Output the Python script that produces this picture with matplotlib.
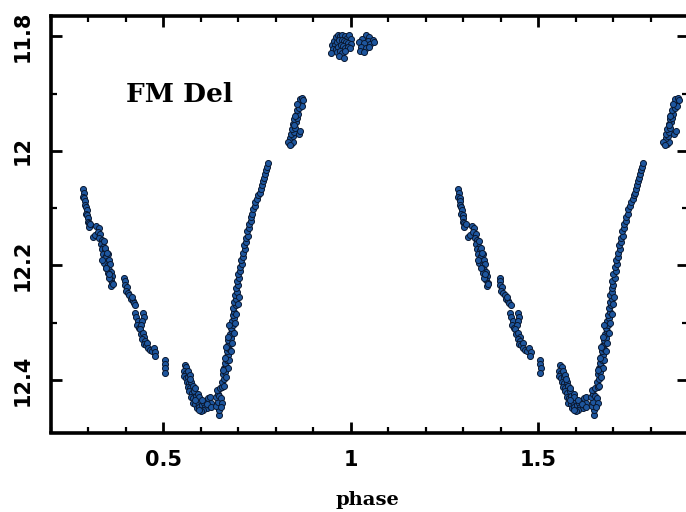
import matplotlib
matplotlib.use("Agg")
import matplotlib.pyplot as plt
from matplotlib.ticker import MultipleLocator, FixedLocator, FixedFormatter

# ---- data (phase, magnitude), one cycle ----
desc_phase = [0.286, 0.288, 0.287, 0.290, 0.292, 0.291, 0.294, 0.296, 0.295, 0.298,
              0.300, 0.299, 0.302, 0.304, 0.303, 0.306, 0.313, 0.318,
              0.322, 0.328, 0.326, 0.333, 0.330, 0.336, 0.339, 0.334, 0.341, 0.337,
              0.345, 0.340, 0.347, 0.352, 0.344, 0.350, 0.355, 0.343, 0.353, 0.358,
              0.349, 0.356, 0.360, 0.352, 0.358, 0.363, 0.361, 0.365, 0.362, 0.366,
              0.338, 0.347, 0.355, 0.346, 0.350, 0.357, 0.342,
              0.397, 0.399, 0.398, 0.403, 0.401, 0.406, 0.410, 0.414, 0.419, 0.423,
              0.426, 0.417,
              0.425, 0.428, 0.432, 0.430, 0.435, 0.446, 0.448, 0.445, 0.442, 0.439,
              0.441, 0.447, 0.450, 0.445, 0.452, 0.449, 0.455, 0.458, 0.460, 0.465,
              0.470, 0.476, 0.479, 0.478,
              0.505, 0.505, 0.506, 0.505]
desc_mag = [12.067, 12.073, 12.080, 12.083, 12.088, 12.095, 12.098, 12.104, 12.110, 12.112,
            12.118, 12.124, 12.126, 12.130, 12.134, 12.128, 12.150, 12.147,
            12.132, 12.135, 12.142, 12.146, 12.152, 12.155, 12.160, 12.163, 12.168, 12.172,
            12.174, 12.180, 12.183, 12.181, 12.188, 12.192, 12.190, 12.196, 12.200, 12.197,
            12.205, 12.208, 12.212, 12.214, 12.220, 12.218, 12.226, 12.231, 12.236, 12.233,
            12.190, 12.205, 12.222, 12.170, 12.178, 12.215, 12.158,
            12.222, 12.228, 12.235, 12.238, 12.245, 12.248, 12.252, 12.258, 12.262, 12.266,
            12.270, 12.255,
            12.283, 12.290, 12.297, 12.305, 12.310, 12.283, 12.290, 12.298, 12.305, 12.312,
            12.320, 12.318, 12.325, 12.328, 12.332, 12.338, 12.340, 12.335, 12.345, 12.348,
            12.350, 12.345, 12.352, 12.358,
            12.366, 12.373, 12.380, 12.388]

min_phase = [0.558, 0.562, 0.556, 0.561, 0.566, 0.555, 0.560, 0.567, 0.571, 0.563,
             0.569, 0.575, 0.566, 0.572, 0.579, 0.570, 0.576, 0.583, 0.575, 0.581,
             0.588, 0.594, 0.580, 0.586, 0.592, 0.598, 0.590, 0.596, 0.603, 0.609,
             0.615, 0.621, 0.626, 0.612, 0.618, 0.624, 0.628, 0.606, 0.600,
             0.573, 0.585, 0.595, 0.605, 0.617, 0.628, 0.584, 0.596]
min_mag = [12.374, 12.378, 12.385, 12.388, 12.384, 12.393, 12.397, 12.395, 12.392, 12.403,
           12.405, 12.403, 12.412, 12.414, 12.411, 12.420, 12.423, 12.420, 12.430, 12.432,
           12.428, 12.425, 12.440, 12.442, 12.438, 12.435, 12.450, 12.447, 12.444, 12.440,
           12.437, 12.432, 12.430, 12.448, 12.450, 12.446, 12.440, 12.452, 12.455,
           12.398, 12.415, 12.430, 12.436, 12.442, 12.447, 12.436, 12.453]

rise_phase = [0.649, 0.648, 0.642, 0.646, 0.641, 0.645, 0.650, 0.643,
              0.652, 0.658, 0.656, 0.662, 0.659, 0.665, 0.661, 0.668, 0.664, 0.670,
              0.667, 0.673, 0.669, 0.676, 0.672, 0.678, 0.674, 0.681, 0.677, 0.683,
              0.680, 0.686, 0.683, 0.688, 0.685, 0.690, 0.687, 0.693, 0.690, 0.695,
              0.692, 0.697, 0.695, 0.700, 0.697, 0.703, 0.700, 0.706, 0.704, 0.709,
              0.708, 0.713, 0.712, 0.717, 0.716, 0.721, 0.720, 0.725, 0.724, 0.729,
              0.728, 0.734, 0.733, 0.738, 0.740, 0.744, 0.746, 0.751, 0.754, 0.758,
              0.761, 0.764, 0.766, 0.769, 0.771, 0.774, 0.776, 0.779,
              0.662, 0.667, 0.672, 0.676, 0.680, 0.684, 0.688, 0.692, 0.695, 0.699,
              0.702, 0.655, 0.658, 0.653, 0.660, 0.664, 0.668, 0.672, 0.676]
rise_mag = [12.461, 12.452, 12.445, 12.438, 12.430, 12.425, 12.428, 12.418,
            12.415, 12.412, 12.403, 12.398, 12.390, 12.387, 12.380, 12.376, 12.370, 12.366,
            12.360, 12.356, 12.350, 12.347, 12.340, 12.336, 12.330, 12.327, 12.320, 12.315,
            12.310, 12.305, 12.298, 12.292, 12.286, 12.282, 12.275, 12.270, 12.264, 12.258,
            12.252, 12.246, 12.240, 12.234, 12.228, 12.222, 12.216, 12.210, 12.203, 12.198,
            12.190, 12.185, 12.178, 12.172, 12.165, 12.160, 12.152, 12.148, 12.140, 12.135,
            12.128, 12.123, 12.115, 12.110, 12.102, 12.097, 12.090, 12.085, 12.078, 12.073,
            12.066, 12.060, 12.053, 12.047, 12.040, 12.034, 12.028, 12.022,
            12.410, 12.395, 12.380, 12.365, 12.350, 12.335, 12.318, 12.300, 12.285, 12.268,
            12.255, 12.432, 12.440, 12.448, 12.382, 12.362, 12.343, 12.325, 12.305]

shoulder_phase = [0.836, 0.842, 0.847, 0.839, 0.845, 0.841, 0.848, 0.844, 0.851, 0.847,
                  0.854, 0.850, 0.857, 0.853, 0.860, 0.857, 0.863, 0.861, 0.867, 0.865,
                  0.871, 0.874, 0.869, 0.832, 0.862, 0.866, 0.848, 0.858, 0.852, 0.838]
shoulder_mag = [11.987, 11.988, 11.985, 11.978, 11.975, 11.970, 11.968, 11.962, 11.960, 11.953,
                11.950, 11.945, 11.942, 11.937, 11.935, 11.928, 11.925, 11.918, 11.916, 11.910,
                11.908, 11.912, 11.921, 11.985, 11.970, 11.965, 11.955, 11.918, 11.940, 11.990]

max_phase = [0.950, 0.955, 0.960, 0.966, 0.972, 0.978, 0.984, 0.990, 0.995, 1.000,
             0.958, 0.964, 0.970, 0.976, 0.982, 0.988, 0.994, 1.002, 0.953, 0.960,
             0.967, 0.974, 0.980, 0.986, 0.992, 0.998, 0.948, 0.963, 0.972, 0.978,
             0.985, 0.970, 0.981,
             1.040, 1.050, 1.030, 1.045, 1.058, 1.022, 1.035, 1.052, 1.062, 1.028,
             1.040, 1.048, 1.025, 1.035]
max_mag = [11.815, 11.808, 11.802, 11.798, 11.800, 11.797, 11.799, 11.803, 11.797, 11.805,
           11.815, 11.810, 11.807, 11.806, 11.808, 11.810, 11.812, 11.813, 11.822, 11.823,
           11.818, 11.815, 11.817, 11.820, 11.818, 11.820, 11.829, 11.828, 11.826, 11.830,
           11.826, 11.834, 11.838,
           11.798, 11.802, 11.805, 11.808, 11.806, 11.810, 11.812, 11.813, 11.810, 11.818,
           11.820, 11.818, 11.826, 11.828]

x_ticks = [0.5, 1.0, 1.5]
x_labels = ["0.5", "1", "1.5"]
y_ticks = [11.8, 12.0, 12.2, 12.4]
y_labels = ["11.8", "12", "12.2", "12.4"]
star_name = "FM Del"
x_title = "phase"

phase = desc_phase + min_phase + rise_phase + shoulder_phase + max_phase
mag = desc_mag + min_mag + rise_mag + shoulder_mag + max_mag

fig = plt.figure(figsize=(6.86, 5.12), dpi=100)
ax = fig.add_axes([50.5 / 686, 79.5 / 512, 638 / 686, 416.3 / 512])

for shift in (0.0, 1.0):
    ax.scatter([p + shift for p in phase], mag, s=19, marker='o',
               facecolor='#1e569e', edgecolor='#0a1830', linewidths=0.7, zorder=3)

ax.set_xlim(0.2, 1.9)
ax.set_ylim(12.492, 11.765)

ax.xaxis.set_major_locator(FixedLocator(x_ticks))
ax.xaxis.set_major_formatter(FixedFormatter(x_labels))
ax.xaxis.set_minor_locator(MultipleLocator(0.1))
ax.yaxis.set_major_locator(FixedLocator(y_ticks))
ax.yaxis.set_major_formatter(FixedFormatter(y_labels))
ax.yaxis.set_minor_locator(MultipleLocator(0.1))

for sp in ax.spines.values():
    sp.set_linewidth(2.6)
ax.tick_params(which='both', direction='in', top=True, right=True)
ax.tick_params(which='major', length=8, width=2.0, pad=12.5)
ax.tick_params(which='minor', length=4.3, width=1.6)

for lab in ax.get_xticklabels():
    lab.set_fontfamily('DejaVu Sans')
    lab.set_fontweight('bold')
    lab.set_fontsize(15)
for lab in ax.get_yticklabels():
    lab.set_fontfamily('DejaVu Sans')
    lab.set_fontweight('bold')
    lab.set_fontsize(15)
    lab.set_rotation(90)
    lab.set_va('center')
    lab.set_ha('right')

ax.text(0.1176, 0.794, star_name, transform=ax.transAxes, fontsize=19,
        fontfamily='DejaVu Serif', fontweight='bold', ha='left', va='baseline')
fig.text(367 / 686, 1 - 505 / 512, x_title, fontsize=14, fontfamily='DejaVu Serif',
         fontweight='bold', ha='center', va='baseline')

fig.savefig('out.png', dpi=100)
